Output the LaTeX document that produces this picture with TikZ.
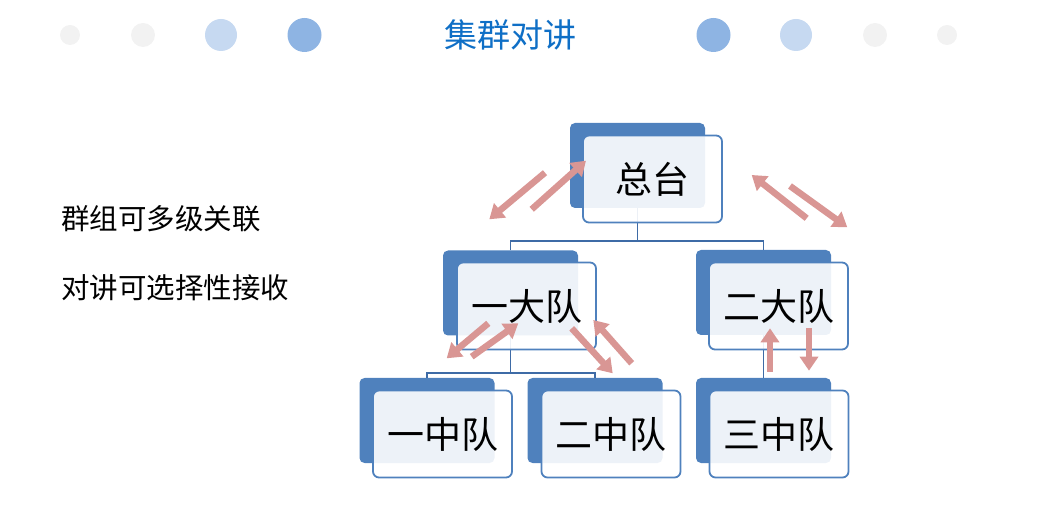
\documentclass[tikz,border=0pt]{standalone}
\usepackage{fontspec}
\newfontfamily\cjk{Noto Sans CJK SC}
\usetikzlibrary{arrows.meta}
\definecolor{boxblue}{HTML}{4F81BD}
\definecolor{linkblue}{HTML}{3E6BA6}
\definecolor{arrowpink}{HTML}{D99694}
\definecolor{dotdark}{HTML}{8EB4E3}
\definecolor{dotlight}{HTML}{C6D9F1}
\definecolor{dotgrey}{HTML}{F2F2F2}
\definecolor{titleblue}{HTML}{0F6FC6}
\tikzset{
  backbox/.style={fill=boxblue, draw=none, rounded corners=5pt, minimum width=135pt, minimum height=85pt, inner sep=0pt},
  frontbox/.style={fill=white, fill opacity=0.9, text opacity=1, draw=boxblue, line width=1.8pt, rounded corners=6pt, minimum width=139pt, minimum height=87pt, inner sep=0pt, font=\cjk\fontsize{37}{40}\selectfont},
  link/.style={draw=linkblue, line width=1.4pt},
  talk/.style={draw=arrowpink, line width=6.5pt, -{Triangle[width=18pt,length=14pt]}},
  dot/.style={circle, inner sep=0pt, draw=none},
  sidetext/.style={anchor=west, inner sep=0pt, font=\cjk\fontsize{28.5}{30}\selectfont},
}
\begin{document}
\begin{tikzpicture}[x=1pt,y=-1pt]
\useasboundingbox (0,0) rectangle (1052,526);
% decorative dots
\node[dot, fill=dotgrey, minimum size=20pt] (d1) at (70,35) {};
\node[dot, fill=dotgrey, minimum size=24pt] (d2) at (143,35) {};
\node[dot, fill=dotlight, minimum size=32pt] (d3) at (221,35) {};
\node[dot, fill=dotdark, minimum size=34pt] (d4) at (304.5,35) {};
\node[dot, fill=dotdark, minimum size=34pt] (d5) at (713.5,35) {};
\node[dot, fill=dotlight, minimum size=32pt] (d6) at (796,35) {};
\node[dot, fill=dotgrey, minimum size=24pt] (d7) at (875,35) {};
\node[dot, fill=dotgrey, minimum size=20pt] (d8) at (947,35) {};
\node[inner sep=0pt, text=titleblue, font=\cjk\fontsize{33}{36}\selectfont] (title) at (510,35) {集群对讲};
% side text
\node[sidetext] (s1) at (61,219) {群组可多级关联};
\node[sidetext] (s2) at (61,287.5) {对讲可选择性接收};
% back boxes
\node[backbox] (zt-b) at (637.5,165.5) {};
\node[backbox] (ydd-b) at (510.5,293) {};
\node[backbox] (edd-b) at (763.5,292.5) {};
\node[backbox] (yzd-b) at (427,420.5) {};
\node[backbox] (ezd-b) at (595,420.5) {};
\node[backbox] (szd-b) at (763.5,420.5) {};
% connectors
\coordinate (bus1) at (0,241);
\coordinate (bus2) at (0,373);
\draw[link] (zt-b.south) -- (zt-b.south |- bus1);
\draw[link] (ydd-b.north) -- (ydd-b.north |- bus1) -- (edd-b.north |- bus1) -- (edd-b.north);
\draw[link] (ydd-b.south) -- (ydd-b.south |- bus2);
\draw[link] (yzd-b.north) -- (yzd-b.north |- bus2) -- (ezd-b.north |- bus2) -- (ezd-b.north);
\draw[link] (edd-b.south) -- (szd-b.north);
% front boxes
\node[frontbox] (zt) at (652.5,179) {总台};
\node[frontbox] (ydd) at (526.5,306) {一大队};
\node[frontbox] (edd) at (778.5,306) {二大队};
\node[frontbox] (yzd) at (442.5,434) {一中队};
\node[frontbox] (ezd) at (611,434) {二中队};
\node[frontbox] (szd) at (779,434) {三中队};
% talk arrows
\coordinate (a1s) at (545,172.7);   \coordinate (a1e) at (489.3,219.3);
\coordinate (a2s) at (531.7,209.3); \coordinate (a2e) at (586,160.7);
\coordinate (a3s) at (806.7,218.3); \coordinate (a3e) at (751.7,175);
\coordinate (a4s) at (790,186);     \coordinate (a4e) at (847.3,227.3);
\coordinate (a5s) at (488.3,323.3); \coordinate (a5e) at (446.7,358.3);
\coordinate (a6s) at (471.7,356.7); \coordinate (a6e) at (518.3,323.3);
\coordinate (a7s) at (571.7,328.3); \coordinate (a7e) at (612.7,373.3);
\coordinate (a8s) at (631.7,363.3); \coordinate (a8e) at (593.3,320);
\coordinate (a9s) at (770,371.7);   \coordinate (a9e) at (770,328.3);
\coordinate (a10s) at (809,328.3);  \coordinate (a10e) at (809,370.7);
\foreach \i in {1,...,10} {\draw[talk] (a\i s) -- (a\i e);}
\end{tikzpicture}
\end{document}
